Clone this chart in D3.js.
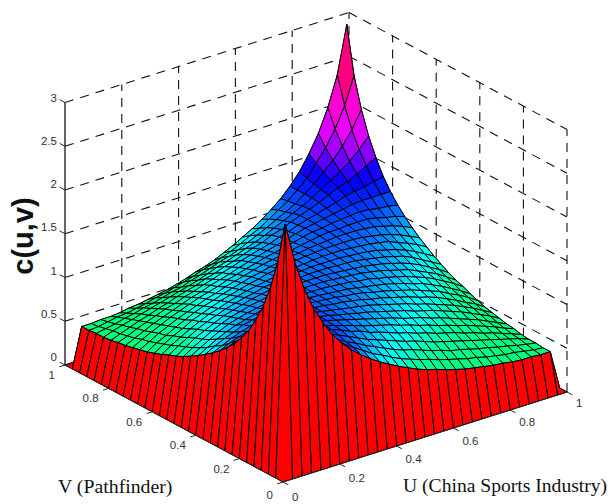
<!DOCTYPE html>
<html>
<head>
<meta charset="utf-8">
<script src="https://cdn.jsdelivr.net/npm/d3@7"></script>
<style>
body { margin: 0; background: #fff; }
</style>
</head>
<body>
<svg class="target" width="613" height="504"></svg>
<script>
// c(u,v), one row per u, zero rim on every side
var grid_u = [0,1/30,2/30,3/30,4/30,5/30,6/30,7/30,8/30,9/30,10/30,11/30,12/30,13/30,14/30,15/30,16/30,17/30,18/30,19/30,20/30,21/30,22/30,23/30,24/30,25/30,26/30,27/30,28/30,29/30,1];
var grid_v = grid_u.slice();
var density = [
[0,0,0,0,0,0,0,0,0,0,0,0,0,0,0,0,0,0,0,0,0,0,0,0,0,0,0,0,0,0,0],
[0,2.87,2.40,2.06,1.80,1.60,1.43,1.30,1.19,1.10,1.02,.95,.89,.83,.78,.73,.69,.66,.62,.59,.56,.54,.52,.50,.49,.47,.46,.46,.45,.45,0],
[0,2.40,2.09,1.86,1.68,1.54,1.40,1.30,1.21,1.14,1.07,1.00,.95,.89,.84,.80,.76,.73,.69,.66,.63,.60,.58,.55,.53,.51,.50,.48,.46,.45,0],
[0,2.06,1.86,1.71,1.58,1.48,1.38,1.30,1.22,1.16,1.11,1.05,1.00,.95,.90,.86,.83,.79,.75,.72,.68,.66,.63,.60,.58,.55,.53,.50,.48,.46,0],
[0,1.80,1.68,1.58,1.50,1.43,1.36,1.30,1.24,1.19,1.14,1.09,1.04,1.00,.96,.92,.88,.85,.81,.77,.74,.71,.68,.65,.62,.59,.56,.53,.50,.46,0],
[0,1.60,1.54,1.48,1.43,1.39,1.34,1.29,1.25,1.21,1.17,1.12,1.09,1.04,1.01,.97,.93,.90,.86,.83,.79,.76,.73,.69,.66,.62,.59,.55,.51,.47,0],
[0,1.43,1.40,1.38,1.36,1.34,1.30,1.27,1.24,1.21,1.18,1.14,1.11,1.07,1.04,1.01,.98,.94,.91,.87,.84,.80,.77,.73,.70,.66,.62,.58,.53,.49,0],
[0,1.30,1.30,1.30,1.30,1.29,1.27,1.25,1.23,1.21,1.19,1.16,1.13,1.10,1.07,1.04,1.01,.98,.94,.91,.88,.84,.81,.77,.73,.69,.65,.60,.55,.50,0],
[0,1.19,1.21,1.22,1.24,1.25,1.24,1.23,1.22,1.20,1.19,1.17,1.14,1.12,1.09,1.07,1.04,1.01,.98,.95,.91,.88,.85,.81,.77,.73,.68,.63,.58,.52,0],
[0,1.10,1.14,1.16,1.19,1.21,1.21,1.21,1.20,1.20,1.19,1.17,1.15,1.13,1.11,1.09,1.07,1.04,1.01,.98,.95,.91,.88,.84,.80,.76,.71,.66,.60,.54,0],
[0,1.02,1.07,1.11,1.14,1.17,1.18,1.19,1.19,1.19,1.18,1.17,1.16,1.14,1.13,1.11,1.09,1.06,1.04,1.01,.98,.95,.91,.88,.84,.79,.74,.68,.63,.56,0],
[0,.95,1.00,1.05,1.09,1.12,1.14,1.16,1.17,1.17,1.17,1.17,1.16,1.15,1.14,1.12,1.11,1.09,1.06,1.04,1.01,.98,.95,.91,.87,.83,.77,.72,.66,.59,0],
[0,.89,.95,1.00,1.04,1.09,1.11,1.13,1.14,1.15,1.16,1.16,1.16,1.15,1.14,1.13,1.12,1.10,1.08,1.06,1.04,1.01,.98,.94,.91,.86,.81,.75,.69,.62,0],
[0,.83,.89,.95,1.00,1.04,1.07,1.10,1.12,1.13,1.14,1.15,1.15,1.15,1.15,1.14,1.13,1.12,1.10,1.09,1.06,1.04,1.01,.98,.94,.90,.85,.79,.73,.66,0],
[0,.78,.84,.90,.96,1.01,1.04,1.07,1.09,1.11,1.13,1.14,1.14,1.15,1.15,1.15,1.14,1.13,1.12,1.11,1.09,1.07,1.04,1.01,.98,.93,.88,.83,.76,.69,0],
[0,.73,.80,.86,.92,.97,1.01,1.04,1.07,1.09,1.11,1.12,1.13,1.14,1.15,1.15,1.15,1.14,1.13,1.12,1.11,1.09,1.07,1.04,1.01,.97,.92,.86,.80,.73,0],
[0,.69,.76,.83,.88,.93,.98,1.01,1.04,1.07,1.09,1.11,1.12,1.13,1.14,1.15,1.15,1.15,1.14,1.14,1.13,1.11,1.09,1.07,1.04,1.01,.96,.90,.84,.78,0],
[0,.66,.73,.79,.85,.90,.94,.98,1.01,1.04,1.06,1.09,1.10,1.12,1.13,1.14,1.15,1.15,1.15,1.15,1.14,1.13,1.12,1.10,1.07,1.04,1.00,.95,.89,.83,0],
[0,.62,.69,.75,.81,.86,.91,.94,.98,1.01,1.04,1.06,1.08,1.10,1.12,1.13,1.14,1.15,1.16,1.16,1.16,1.15,1.14,1.13,1.11,1.09,1.04,1.00,.95,.89,0],
[0,.59,.66,.72,.77,.83,.87,.91,.95,.98,1.01,1.04,1.06,1.09,1.11,1.12,1.14,1.15,1.16,1.17,1.17,1.17,1.17,1.16,1.14,1.12,1.09,1.05,1.00,.95,0],
[0,.56,.63,.68,.74,.79,.84,.88,.91,.95,.98,1.01,1.04,1.06,1.09,1.11,1.13,1.14,1.16,1.17,1.18,1.19,1.19,1.19,1.18,1.17,1.14,1.11,1.07,1.02,0],
[0,.54,.60,.66,.71,.76,.80,.84,.88,.91,.95,.98,1.01,1.04,1.07,1.09,1.11,1.13,1.15,1.17,1.19,1.20,1.20,1.21,1.21,1.21,1.19,1.16,1.14,1.10,0],
[0,.52,.58,.63,.68,.73,.77,.81,.85,.88,.91,.95,.98,1.01,1.04,1.07,1.09,1.12,1.14,1.17,1.19,1.20,1.22,1.23,1.24,1.25,1.24,1.22,1.21,1.19,0],
[0,.50,.55,.60,.65,.69,.73,.77,.81,.84,.88,.91,.94,.98,1.01,1.04,1.07,1.10,1.13,1.16,1.19,1.21,1.23,1.25,1.27,1.29,1.30,1.30,1.30,1.30,0],
[0,.49,.53,.58,.62,.66,.70,.73,.77,.80,.84,.87,.91,.94,.98,1.01,1.04,1.07,1.11,1.14,1.18,1.21,1.24,1.27,1.30,1.34,1.36,1.38,1.40,1.43,0],
[0,.47,.51,.55,.59,.62,.66,.69,.73,.76,.79,.83,.86,.90,.93,.97,1.01,1.04,1.09,1.12,1.17,1.21,1.25,1.29,1.34,1.39,1.43,1.48,1.54,1.60,0],
[0,.46,.50,.53,.56,.59,.62,.65,.68,.71,.74,.77,.81,.85,.88,.92,.96,1.00,1.04,1.09,1.14,1.19,1.24,1.30,1.36,1.43,1.50,1.58,1.68,1.80,0],
[0,.46,.48,.50,.53,.55,.58,.60,.63,.66,.68,.72,.75,.79,.83,.86,.90,.95,1.00,1.05,1.11,1.16,1.22,1.30,1.38,1.48,1.58,1.71,1.86,2.06,0],
[0,.45,.46,.48,.50,.51,.53,.55,.58,.60,.63,.66,.69,.73,.76,.80,.84,.89,.95,1.00,1.07,1.14,1.21,1.30,1.40,1.54,1.68,1.86,2.09,2.40,0],
[0,.45,.45,.46,.46,.47,.49,.50,.52,.54,.56,.59,.62,.66,.69,.73,.78,.83,.89,.95,1.02,1.10,1.19,1.30,1.43,1.60,1.80,2.06,2.40,2.94,0],
[0,0,0,0,0,0,0,0,0,0,0,0,0,0,0,0,0,0,0,0,0,0,0,0,0,0,0,0,0,0,0]
];

// colormap as it looks in the picture: height -> hue
var color_z = [0, 0.44, 0.6, 0.75, 0.87, 0.96, 1.05, 1.15, 1.25, 1.4, 1.5, 1.6, 1.75, 2.1, 3];
var color_hue = [0, 148, 150, 158, 175, 186, 200, 215, 228, 245, 265, 283, 300, 330, 345];

var ticks_uv = [0, 0.2, 0.4, 0.6, 0.8, 1];
var ticks_z = [0, 0.5, 1, 1.5, 2, 2.5, 3];
var tick_labels_uv = ["0", "0.2", "0.4", "0.6", "0.8", "1"];
var tick_labels_z = ["0", "0.5", "1", "1.5", "2", "2.5", "3"];

const svg = d3.select(".target");

// box corners: front (283,482), u=1 (567,392), v=1 (65,365), z=3 is 262.5 higher
var ux = d3.scaleLinear().domain([0, 1]).range([0, 284]);
var uy = d3.scaleLinear().domain([0, 1]).range([0, -90]);
var vx = d3.scaleLinear().domain([0, 1]).range([0, -218]);
var vy = d3.scaleLinear().domain([0, 1]).range([0, -117]);
var zy = d3.scaleLinear().domain([0, 3]).range([0, -262.5]);
var hue = d3.scaleLinear().domain(color_z).range(color_hue);

var px = function (u, v) { return 283 + ux(u) + vx(v); };
var py = function (u, v, z) { return 482 + uy(u) + vy(v) + zy(z); };

var quad = d3.line().curve(d3.curveLinearClosed);

var dashed = function (a, b) {
    svg.append('line')
        .attr('x1', a[0]).attr('y1', a[1])
        .attr('x2', b[0]).attr('y2', b[1])
        .style('stroke', '#111')
        .style('stroke-width', 1.1)
        .style('stroke-dasharray', '9,7');
};

// back walls
ticks_z.forEach(function (z) {
    dashed([px(0, 1), py(0, 1, z)], [px(1, 1), py(1, 1, z)]);
    dashed([px(1, 1), py(1, 1, z)], [px(1, 0), py(1, 0, z)]);
});
ticks_uv.slice(1, 5).forEach(function (t) {
    dashed([px(t, 1), py(t, 1, 0)], [px(t, 1), py(t, 1, 3)]);
    dashed([px(1, t), py(1, t, 0)], [px(1, t), py(1, t, 3)]);
});
dashed([px(1, 1), py(1, 1, 0)], [px(1, 1), py(1, 1, 3)]);
dashed([px(1, 0), py(1, 0, 0)], [px(1, 0), py(1, 0, 3)]);

// faces back to front, flat colour from the low corner like surf does
var faces = [];
for (var i = grid_u.length - 2; i >= 0; i--) {
    for (var j = grid_v.length - 2; j >= 0; j--) {
        faces.push({ i: i, j: j });
    }
}

svg.append('g')
    .selectAll('path')
    .data(faces)
    .join('path')
    .attr('d', function (f) {
        var corners = [[f.i, f.j], [f.i + 1, f.j], [f.i + 1, f.j + 1], [f.i, f.j + 1]];
        return quad(corners.map(function (c) {
            return [px(grid_u[c[0]], grid_v[c[1]]), py(grid_u[c[0]], grid_v[c[1]], density[c[0]][c[1]])];
        }));
    })
    .style('fill', function (f) { return d3.hsl(hue(density[f.i][f.j]), 1, 0.5); })
    .style('stroke', '#000')
    .style('stroke-width', 1)
    .style('stroke-linejoin', 'round');

var solid = function (a, b, width) {
    svg.append('line')
        .attr('x1', a[0]).attr('y1', a[1])
        .attr('x2', b[0]).attr('y2', b[1])
        .style('stroke', '#262626')
        .style('stroke-width', width);
};

// axes
solid([px(0, 1), py(0, 1, 0)], [px(0, 1), py(0, 1, 3)], 1.4);
solid([px(0, 1), py(0, 1, 0)], [px(0, 0), py(0, 0, 0)], 1);
solid([px(0, 0), py(0, 0, 0)], [px(1, 0), py(1, 0, 0)], 1);

var label = function (x, y, s, anchor) {
    svg.append('text')
        .attr('x', x)
        .attr('y', y)
        .attr('text-anchor', anchor)
        .style('font-family', '"Liberation Sans", Arial, sans-serif')
        .style('font-size', '11.5px')
        .style('fill', '#303030')
        .text(s);
};

ticks_z.forEach(function (z, k) {
    var x = px(0, 1), y = py(0, 1, z);
    solid([x, y], [x - 5.3, y - 2.8], 1);
    label(x - 8, y - 4 + z, tick_labels_z[k], 'end');
});
ticks_uv.forEach(function (t, k) {
    // v axis ticks point along -u, u axis ticks along -v
    var x = px(0, t), y = py(0, t, 0);
    solid([x, y], [x - 5.7, y + 1.8], 1);
    label(x - 10, y + (t == 0 ? 17 : 14), tick_labels_uv[k], 'end');
    x = px(t, 0); y = py(t, 0, 0);
    solid([x, y], [x + 5.3, y + 2.8], 1);
    label(x + 9, y + 19 - 4 * t, tick_labels_uv[k], 'start');
});

svg.append('text')
    .attr('x', 58)
    .attr('y', 493)
    .style('font-family', '"Liberation Serif", "Times New Roman", serif')
    .style('font-size', '19.8px')
    .style('fill', '#111')
    .text('V (Pathfinder)');

svg.append('text')
    .attr('x', 403)
    .attr('y', 492)
    .style('font-family', '"Liberation Serif", "Times New Roman", serif')
    .style('font-size', '19.6px')
    .style('fill', '#111')
    .text('U (China Sports Industry)');

svg.append('text')
    .attr('transform', 'translate(33,236) rotate(-90)')
    .attr('text-anchor', 'middle')
    .style('font-family', '"Liberation Sans", Arial, sans-serif')
    .style('font-size', '29px')
    .style('font-weight', 'bold')
    .style('fill', '#111')
    .text('c(u,v)');
</script>
</body>
</html>
